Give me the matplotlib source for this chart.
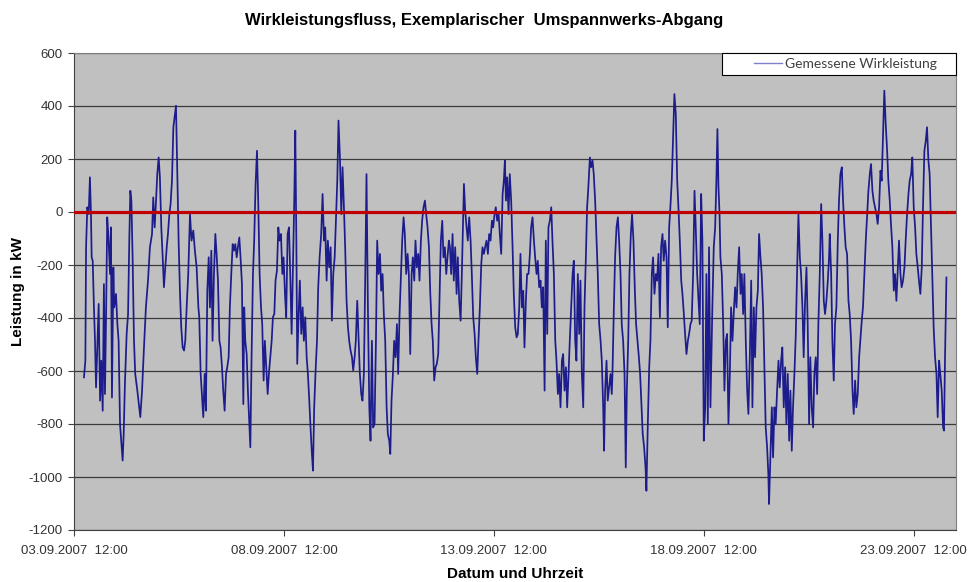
import numpy as np
import pandas as pd
import matplotlib
matplotlib.use('Agg')
import matplotlib.pyplot as plt
from matplotlib.legend_handler import HandlerLine2D

# ------------------------------------------------------------------------
# measured active power (kW), read off the chart; hours after 03.09.2007 12:00
start = pd.Timestamp('2007-09-03 12:00')

h1 = [5.7, 6.5, 6.9, 7.6, 8.4, 9.1, 9.7, 10.1, 10.7, 11.4,
      12.0, 12.6, 13.3, 14.1, 14.9, 15.6, 16.4, 17.1, 17.7, 18.3,
      19.0, 19.8, 20.6, 21.1, 21.7, 22.5, 23.0, 24.0, 24.8, 25.5,
      26.3, 27.0, 27.8, 28.4, 29.1, 30.1, 30.9, 31.6, 32.2, 32.8,
      33.5, 34.3, 35.0, 36.2, 37.3, 37.9, 38.9, 40.0, 41.1, 42.3,
      43.4, 44.6, 45.3, 46.1, 46.9, 47.6, 48.4, 49.1, 49.9, 50.7,
      51.4, 52.2, 53.0, 53.7, 54.5, 55.2, 56.0, 56.8, 57.5, 58.3,
      59.0, 59.8, 60.6, 61.3, 62.1, 62.9, 63.6, 64.4, 65.3]
kw1 = [-624, -561, -133, 18, -8, 131, -8, -171, -184, -360,
       -486, -662, -511, -347, -712, -561, -750, -272, -687, -410,
       -20, -108, -234, -58, -700, -209, -360, -309, -423, -486,
       -800, -863, -938, -838, -649, -460, -385, -108, 80, 43,
       -171, -486, -611, -674, -737, -774, -674, -511, -360, -259,
       -133, -83, 55, -58, 43, 143, 206, 131, -58, -171,
       -284, -209, -133, -83, -8, 30, 118, 320, 357, 401,
       169, -108, -309, -435, -511, -523, -486, -360, -234]

h2 = [66.3, 67.2, 68.2, 69.1, 70.1, 71.1, 71.6, 72.4, 73.1, 73.9,
      74.7, 75.4, 76.2, 77.0, 77.7, 78.5, 79.2, 80.0, 80.8, 81.5,
      82.3, 83.1, 83.8, 84.6, 85.3, 86.1, 86.9, 87.6, 88.4, 89.1,
      89.9, 90.7, 91.4, 92.2, 93.0, 93.7, 94.5, 95.2, 96.0, 96.8,
      97.3, 97.9, 98.7, 99.4, 100.2, 100.8, 101.5, 102.3, 103.0, 103.8,
      104.6, 105.3, 106.1, 106.9, 107.6, 108.4, 109.1, 109.9, 110.7, 111.4,
      112.2, 113.0, 113.7, 114.5, 115.2, 116.0, 116.8, 117.5, 118.3, 119.1,
      119.8, 120.6, 121.3, 122.1, 122.9, 123.6, 124.4, 125.1, 125.9, 126.5,
      127.1, 127.6, 128.4, 129.1, 129.9, 130.7, 131.4, 132.2, 133.0, 133.7,
      134.5, 135.2, 136.0, 136.6, 137.3, 138.1, 138.9, 139.6, 140.4]
kw2 = [-8, -108, -70, -146, -209, -360, -397, -611, -687, -774,
       -611, -750, -297, -171, -360, -146, -486, -234, -83, -158,
       -259, -486, -511, -586, -674, -750, -611, -586, -548, -360,
       -234, -121, -146, -121, -171, -133, -96, -171, -272, -725,
       -360, -486, -536, -674, -800, -888, -548, -234, -108, 106,
       231, 43, -234, -360, -423, -636, -486, -586, -687, -611,
       -548, -486, -397, -385, -259, -221, -58, -108, -83, -234,
       -171, -309, -397, -83, -58, -234, -460, -234, 43, 307,
       -108, -573, -385, -259, -460, -360, -486, -397, -548, -611,
       -712, -813, -913, -976, -737, -598, -486, -284, -171]

h3 = [141.3, 142.1, 142.9, 143.6, 144.4, 145.1, 145.9, 146.7, 147.4, 148.2,
      149.0, 149.7, 150.5, 151.2, 152.0, 152.8, 153.5, 154.3, 155.0, 155.8,
      156.6, 157.3, 158.1, 158.9, 159.6, 160.4, 161.1, 161.9, 162.7, 163.4,
      164.2, 164.9, 165.7, 166.5, 167.2, 168.0, 168.8, 169.5, 170.3, 171.0,
      171.8, 172.6, 173.3, 174.1, 174.9, 175.6, 176.4, 177.1, 177.9, 178.7,
      179.4, 180.2, 180.8, 181.5, 182.3, 183.0, 183.8, 184.6, 185.3, 186.1,
      186.9, 187.6, 188.4, 189.1, 189.9, 190.7, 191.4, 192.2, 193.0, 193.7,
      194.5, 195.2, 196.0, 196.8, 197.5, 198.3, 199.0, 199.8, 200.6, 201.3,
      202.1, 202.9, 203.6, 204.4, 205.1, 205.9, 206.7, 207.4, 208.2, 209.0,
      209.7, 210.5, 211.2, 212.0, 212.8, 213.5, 214.3]
kw3 = [-83, 68, -108, -58, -259, -108, -209, -133, -410, -234,
       -171, -33, 118, 345, 206, -8, 169, 18, -133, -335,
       -435, -486, -523, -548, -598, -548, -486, -335, -486, -611,
       -687, -712, -611, -234, 143, -360, -737, -863, -486, -813,
       -800, -486, -108, -234, -158, -297, -234, -385, -486, -737,
       -838, -863, -913, -712, -611, -486, -548, -423, -611, -385,
       -234, -108, -20, -83, -234, -158, -234, -536, -234, -171,
       -259, -108, -209, -158, -259, -108, -33, 18, 43, -8,
       -58, -133, -297, -423, -486, -636, -586, -573, -536, -309,
       -108, -33, -171, -133, -234, -171, -108]

h4 = [214.9, 215.6, 216.4, 217.1, 217.9, 218.7, 219.4, 220.2, 221.0, 221.7,
      222.5, 222.9, 223.6, 224.4, 225.1, 225.9, 226.7, 227.4, 228.2, 229.0,
      229.7, 230.5, 231.2, 232.0, 232.8, 233.5, 234.3, 235.0, 235.8, 236.6,
      237.3, 238.1, 238.9, 239.6, 240.4, 241.1, 241.9, 242.7, 243.4, 244.2,
      245.0, 245.7, 246.3, 246.9, 247.6, 248.4, 249.1, 249.9, 250.7, 251.4,
      252.2, 253.0, 253.7, 254.5, 255.2, 256.0, 256.8, 257.5, 258.3, 259.0,
      259.8, 260.6, 261.3, 262.1, 262.9, 263.6, 264.4, 265.1, 265.9, 266.7,
      267.4, 268.2, 269.0, 269.7, 270.5, 271.2, 272.0, 272.8, 273.5, 274.3,
      275.1, 275.8, 276.6, 277.3, 278.1, 278.9, 279.6, 280.4, 281.2, 281.9,
      282.7, 283.4, 284.2, 285.0, 285.7, 286.5, 287.2, 288.0, 288.8, 289.5,
      290.3, 291.1, 291.8, 292.6, 293.3]
kw4 = [-133, -234, -83, -259, -133, -309, -171, -335, -410, -234,
       -8, 106, 5, -58, -108, -20, -108, -234, -397, -460,
       -548, -611, -486, -360, -196, -133, -158, -133, -108, -158,
       -83, -108, -33, -58, -8, 18, -33, -8, -83, -158,
       68, 118, 194, 43, 131, -8, 143, 43, -133, -309,
       -435, -473, -460, -360, -158, -360, -297, -511, -335, -234,
       -234, -158, -58, -20, -108, -171, -234, -184, -284, -259,
       -360, -284, -674, -108, -460, -58, -33, 18, -108, -234,
       -486, -561, -687, -611, -737, -561, -536, -674, -586, -737,
       -611, -486, -360, -234, -184, -486, -561, -234, -460, -259,
       -611, -737, -360, -171, 18]

h5 = [293.9, 294.9, 295.6, 296.4, 297.1, 297.9, 298.7, 299.4, 300.2, 301.0,
      301.7, 302.5, 303.0, 303.6, 304.4, 305.1, 305.9, 306.7, 307.4, 307.8,
      308.6, 309.3, 310.1, 310.9, 311.6, 312.4, 313.1, 313.9, 314.7, 315.4,
      316.0, 316.8, 317.5, 318.3, 319.0, 319.8, 320.6, 321.3, 322.1, 322.9,
      323.6, 324.4, 325.1, 325.9, 326.7, 327.2, 328.0, 328.8, 329.5, 330.3,
      331.0, 331.8, 332.6, 333.3, 334.1, 334.9, 335.6, 336.4, 337.1, 337.9,
      338.7, 339.4, 340.2, 340.9, 341.7, 342.5, 343.2, 344.0, 344.8, 345.5,
      346.3, 347.1, 347.8, 348.6, 349.3, 350.1, 350.9, 351.6, 352.4, 353.1,
      353.9, 354.7, 355.4, 356.2, 357.0, 357.7, 358.5, 359.2, 360.0, 360.8,
      361.5, 362.3, 363.0, 363.8]
kw5 = [80, 206, 169, 194, 143, 43, -108, -234, -423, -486,
       -561, -737, -901, -674, -561, -712, -662, -611, -687, -611,
       -360, -171, -58, -20, -108, -234, -423, -486, -611, -964,
       -674, -486, -234, -83, -8, -108, -297, -423, -486, -548,
       -611, -737, -838, -888, -964, -1052, -800, -586, -486, -234,
       -171, -309, -234, -259, -158, -397, -133, -83, -184, -108,
       -171, -435, -58, 18, 118, 294, 445, 370, 118, 18,
       -108, -259, -309, -385, -460, -536, -486, -460, -423, -410,
       -234, 80, -58, -234, -335, -423, 68, -108, -863, -737,
       -234, -800, -133, -737]

h6 = [364.9, 365.7, 366.5, 367.2, 367.8, 368.4, 369.0, 369.5, 370.3, 371.1,
      371.8, 372.6, 373.3, 374.1, 374.9, 375.6, 376.4, 377.1, 377.9, 378.7,
      379.4, 380.2, 381.0, 381.7, 382.5, 383.2, 384.0, 384.8, 385.5, 386.3,
      387.1, 387.8, 388.6, 389.3, 390.1, 390.9, 391.6, 392.4, 393.1, 393.9,
      394.7, 395.4, 396.2, 396.9, 397.3, 398.1, 398.9, 399.6, 400.4, 401.1,
      401.9, 402.7, 403.4, 404.2, 404.9, 405.7, 406.5, 407.2, 408.0, 408.8,
      409.5, 410.3, 411.0, 411.8, 412.6, 413.3, 414.1, 414.9, 415.6, 416.4,
      417.1, 417.9, 418.7, 419.4, 420.2, 420.9, 421.7, 422.5, 423.2, 424.0,
      424.8, 425.5, 426.3, 427.1, 427.8, 428.6, 429.3, 430.1, 430.9, 431.6]
kw6 = [-360, -133, -58, 118, 313, 93, -8, -171, -234, -423,
       -674, -486, -460, -800, -611, -360, -486, -385, -284, -360,
       -234, -133, -309, -234, -385, -234, -486, -674, -762, -548,
       -259, -737, -360, -548, -360, -297, -83, -171, -234, -360,
       -611, -813, -888, -989, -1102, -926, -737, -926, -737, -800,
       -674, -561, -662, -561, -511, -737, -586, -800, -611, -863,
       -674, -901, -737, -611, -460, -234, -8, -171, -234, -360,
       -548, -335, -209, -423, -800, -548, -737, -813, -611, -548,
       -687, -423, -234, 30, -108, -335, -385, -335, -259, -171]

h7 = [432.0, 432.8, 433.5, 434.3, 435.0, 435.8, 436.6, 437.3, 438.1, 438.9,
      439.6, 440.4, 441.1, 441.9, 442.7, 443.4, 444.2, 445.0, 445.7, 446.5,
      447.2, 448.0, 448.8, 449.5, 450.3, 451.0, 451.8, 452.6, 453.3, 454.1,
      454.9, 455.6, 456.4, 457.1, 457.9, 458.7, 459.4, 460.2, 461.0, 461.7,
      462.5, 463.2, 464.0, 464.8, 465.5, 466.3, 467.0, 467.8, 468.6, 469.3,
      470.1, 470.9, 471.6, 472.4, 473.1, 473.9, 474.7, 475.4, 476.2, 477.0,
      477.7, 478.5, 479.2, 480.0, 480.8, 481.5, 482.3, 483.0, 483.8, 484.6,
      485.3, 486.1, 486.9, 487.6, 488.4, 489.1, 489.9, 490.7, 491.4, 492.2,
      493.0, 493.7, 494.5, 495.2, 496.0, 496.8, 497.3, 497.9, 498.7]
kw7 = [-83, -234, -486, -636, -423, -360, -108, 43, 143, 169,
       43, -58, -133, -158, -335, -385, -486, -674, -762, -636,
       -737, -687, -548, -486, -410, -360, -234, -108, -20, 80,
       143, 181, 80, 43, 18, -8, -45, 18, 156, 118,
       294, 458, 332, 231, 118, 43, -45, -133, -297, -234,
       -335, -209, -108, -234, -284, -259, -209, -108, -8, 68,
       118, 143, 206, 18, -58, -158, -209, -259, -309, -209,
       18, 231, 269, 320, 194, 143, -58, -259, -435, -548,
       -611, -774, -561, -611, -674, -813, -825, -548, -247]

yticks = list(range(-1200, 601, 200))
tick_days = [0, 5, 10, 15, 20]
span_days = 21

hours = np.concatenate([h1, h2, h3, h4, h5, h6, h7])
kw = np.concatenate([kw1, kw2, kw3, kw4, kw5, kw6, kw7])
t = start + pd.to_timedelta(hours, unit='h')


class OffsetLine(HandlerLine2D):
    # legend line drawn only over the right part of the handle box
    def create_artists(self, legend, orig_handle, xdescent, ydescent,
                       width, height, fontsize, trans):
        shift = 0.48 * width
        return super().create_artists(legend, orig_handle, xdescent - shift,
                                      ydescent, width - shift, height,
                                      fontsize, trans)


# ------------------------------------------------------------------------
# plot
plt.rcParams['font.family'] = ['Liberation Sans', 'DejaVu Sans']
plt.rcParams['axes.unicode_minus'] = False

fig = plt.figure(figsize=(9.69, 5.82), dpi=100)
ax = fig.add_axes([74 / 969, 52 / 582, 881.7 / 969, 477 / 582])
ax.set_facecolor('#c0c0c0')

ax.plot(t, kw, color='#1c1c8c', lw=1.25, label='Gemessene Wirkleistung', zorder=2)
ax.axhline(0, color='#c00000', lw=2.3, zorder=3)

ax.set_ylim(-1200, 600)
ax.set_yticks(yticks)
ax.grid(axis='y', color='#3a3a3a', lw=0.9)
ax.set_axisbelow(True)

xt = [start + pd.Timedelta(days=d) for d in tick_days]
ax.set_xticks(xt)
ax.set_xticklabels([x.strftime('%d.%m.%Y  %H:%M') for x in xt])
ax.set_xlim(start, start + pd.Timedelta(days=span_days))

ax.tick_params(axis='both', length=4, width=0.8, color='#404040',
               labelsize=9.5, labelcolor='#333333')
ax.tick_params(axis='y', pad=4)
ax.tick_params(axis='x', pad=7)
for side in ['top', 'right']:
    ax.spines[side].set_color('#808080')
for side in ['left', 'bottom']:
    ax.spines[side].set_color('#404040')

fig.text(0.5, 1 - 20 / 582, 'Wirkleistungsfluss, Exemplarischer  Umspannwerks-Abgang',
         ha='center', va='center', fontsize=12, fontweight='bold')
fig.text(18 / 969, 1 - 292 / 582, 'Leistung in kW', rotation=90,
         ha='center', va='center', fontsize=11, fontweight='bold')
fig.text(515 / 969, 1 - 574 / 582, 'Datum und Uhrzeit',
         ha='center', va='center', fontsize=11, fontweight='bold')

leg = ax.legend(loc='upper right', bbox_to_anchor=(0.735, 0, 0.265, 1),
                mode='expand', borderaxespad=0, fancybox=False,
                edgecolor='black', framealpha=1, handlelength=4.0,
                handletextpad=0.2, borderpad=0.35,
                prop={'family': 'Lato', 'size': 10},
                handler_map={plt.Line2D: OffsetLine()})
leg.get_frame().set_linewidth(0.8)
leg.get_lines()[0].set_color('#8080c8')
leg.get_lines()[0].set_linewidth(1.0)
for txt in leg.get_texts():
    txt.set_color('#404040')

fig.savefig('out.png', dpi=100)
